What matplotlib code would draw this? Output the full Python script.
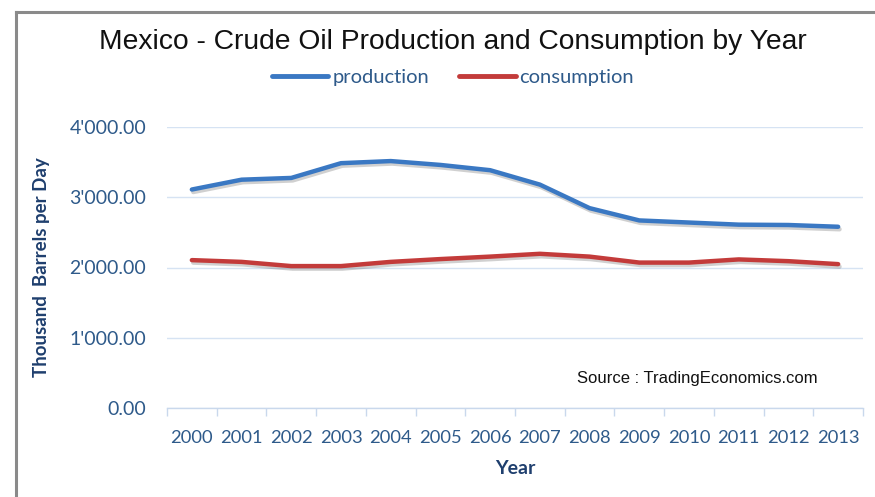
import matplotlib
matplotlib.use("Agg")
import matplotlib.pyplot as plt
import matplotlib.patheffects as pe
import matplotlib.transforms as mtransforms
from matplotlib.lines import Line2D

years = ["2000", "2001", "2002", "2003", "2004", "2005", "2006",
         "2007", "2008", "2009", "2010", "2011", "2012", "2013"]
production = [3110, 3250, 3275, 3485, 3515, 3460, 3385,
              3180, 2845, 2670, 2640, 2610, 2605, 2580]
consumption = [2105, 2080, 2020, 2020, 2080, 2120, 2155,
               2195, 2155, 2070, 2070, 2115, 2090, 2048]
yticks = [0, 1000, 2000, 3000, 4000]
ytick_labels = ["0.00", "1'000.00", "2'000.00", "3'000.00", "4'000.00"]

W, H = 875, 497
fig = plt.figure(figsize=(W / 100, H / 100), dpi=100)
fig.patch.set_facecolor("white")

ax = fig.add_axes([167 / W, 1 - 408 / H, (863 - 167) / W, (408 - 127) / H])
x = list(range(len(years)))

shadow = [pe.SimpleLineShadow(offset=(1.0, -1.8), shadow_color="#444444", alpha=0.25),
          pe.Normal()]
ax.plot(x, production, color="#3A78C3", lw=3.2, solid_capstyle="round",
        path_effects=shadow, label="production", zorder=3)
ax.plot(x, consumption, color="#C33B3A", lw=3.2, solid_capstyle="round",
        path_effects=shadow, label="consumption", zorder=3)

ax.set_xlim(-0.5, len(years) - 0.5)
ax.set_ylim(0, 4000)
ax.set_yticks(yticks)
ax.set_yticklabels(ytick_labels)
ax.set_xticks(x)
ax.set_xticklabels(years)
ax.set_xticks([i - 0.5 for i in range(len(years) + 1)], minor=True)

tick_color = "#2E5A8A"
for lab in ax.get_yticklabels():
    lab.set_fontfamily("Lato")
    lab.set_fontsize(14)
    lab.set_color(tick_color)
for lab in ax.get_xticklabels():
    lab.set_fontfamily("Lato")
    lab.set_fontsize(13.2)
    lab.set_color(tick_color)

ax.tick_params(axis="y", length=0, pad=15)
ax.tick_params(axis="x", which="major", length=0, pad=16)
ax.tick_params(axis="x", which="minor", length=6, color="#C9D8EC", width=1)

ax.grid(axis="y", color="#D6E3F3", lw=1)
ax.set_axisbelow(True)
for s in ["top", "right", "left"]:
    ax.spines[s].set_visible(False)
ax.spines["bottom"].set_color("#C9D8EC")
ax.spines["bottom"].set_linewidth(1)

ax.set_ylabel("Thousand  Barrels per Day", fontfamily="Lato", fontweight="bold",
              fontsize=13.5, color="#1F3F6E", labelpad=14)
ax.set_xlabel("Year", fontfamily="Lato", fontweight="bold", fontsize=14,
              color="#1F3F6E", labelpad=10)

ax.text(0.935, 427, "Source : TradingEconomics.com",
        transform=mtransforms.blended_transform_factory(ax.transAxes, ax.transData),
        ha="right", va="center", fontfamily="Liberation Sans", fontsize=12, color="#111111")

fig.text(453 / W, 1 - 42 / H, "Mexico - Crude Oil Production and Consumption by Year",
         ha="center", va="center", fontfamily="Liberation Sans", fontsize=20.3, color="#111111")

leg = fig.legend(loc="center", bbox_to_anchor=(453 / W, 1 - 77 / H), ncol=2, frameon=False,
                 handlelength=2.8, handletextpad=0.2, columnspacing=1.5,
                 prop={"family": "Lato", "size": 14.5})
for t in leg.get_texts():
    t.set_color(tick_color)
for h in leg.legend_handles:
    h.set_path_effects([])
    h.set_linewidth(3.5)

# outer frame
fig.add_artist(Line2D([16 / W, 16 / W], [0, 1 - 12 / H], transform=fig.transFigure,
                      color="#8A8A8A", lw=2.2))
fig.add_artist(Line2D([16 / W, 1], [1 - 12 / H, 1 - 12 / H], transform=fig.transFigure,
                      color="#8A8A8A", lw=2.2))

fig.savefig("out.png", dpi=100, facecolor="white")
